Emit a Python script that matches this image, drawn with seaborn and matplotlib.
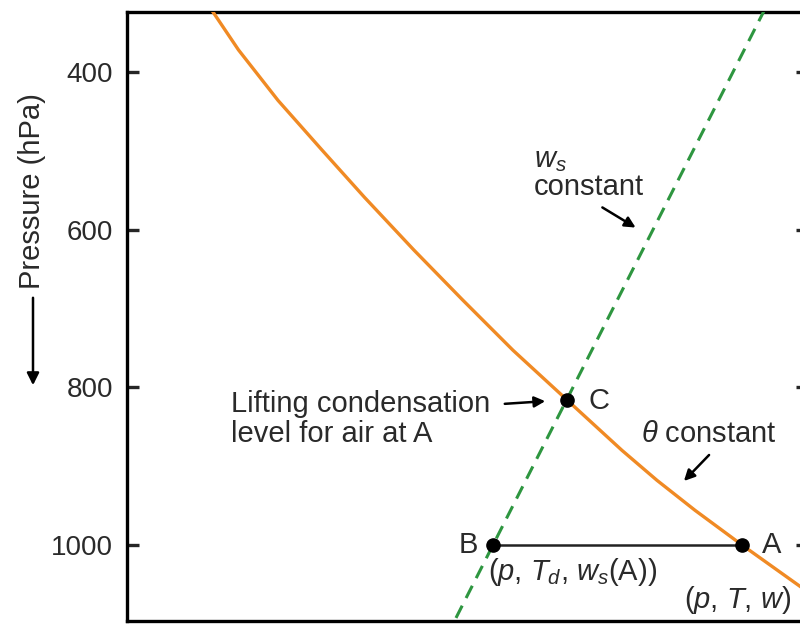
import matplotlib
matplotlib.use("Agg")
import matplotlib.pyplot as plt
import seaborn as sns
import pandas as pd

# ---- data (temperature in arbitrary units, pressure in hPa) ----
theta_p = [322, 372, 436, 499, 559, 626, 689, 753, 816, 880, 918, 956, 1000, 1057, 1083]
theta_T = [8.5, 11.15, 15.1, 19.5, 23.75, 28.7, 33.55, 38.6, 44.0, 49.5, 53.0, 56.8, 61.5, 67.8, 70.6]
ws_p = [320, 1100]
ws_T = [63.8, 32.6]
pt_names = ["A", "B", "C"]
pt_p = [1000, 1000, 816]
pt_T = [61.5, 36.6, 44.0]
yticks = [400, 600, 800, 1000]

sns.set_style("white")
plt.rcParams["font.family"] = ["Liberation Sans", "DejaVu Sans"]
plt.rcParams["mathtext.fontset"] = "custom"
plt.rcParams["mathtext.rm"] = "Liberation Sans"
plt.rcParams["mathtext.it"] = "Liberation Sans:italic"

fig = plt.figure(figsize=(8, 6.24), dpi=100)
ax = fig.add_axes([127 / 800, 3 / 624, (808 - 127) / 800, (612 - 3) / 624])

def X(px):
    return (px - 127) / 10.0

def Y(py):
    return 400 + (py - 72) / 0.7883

ax.set_xlim(0, X(808))
ax.set_ylim(Y(621), Y(12))

df_theta = pd.DataFrame({"T": theta_T, "p": theta_p})
df_ws = pd.DataFrame({"T": ws_T, "p": ws_p})
sns.lineplot(data=df_theta, x="T", y="p", sort=False, ax=ax, color="#F08A24", lw=2.4, zorder=3)
sns.lineplot(data=df_ws, x="T", y="p", sort=False, ax=ax, color="#2E9640", lw=2.2,
             dashes=False, zorder=3)
ax.lines[-1].set_dashes([4.5, 2.8])
for ln in ax.lines:
    ln.set_solid_joinstyle("round")

iA, iB, iC = 0, 1, 2
ax.plot([pt_T[iB], pt_T[iA]], [pt_p[iB], pt_p[iA]], color="#222222", lw=1.8, zorder=4)
ax.plot(pt_T, pt_p, "o", color="black", ms=9.5, zorder=5)

ax.set_yticks(yticks)
ax.set_yticklabels([str(v) for v in yticks], fontsize=20, color="#2a2a2a")
ax.set_xticks([])
ax.tick_params(axis="y", direction="in", length=8.5, width=2.4, pad=10, right=True, left=True)
for s in ax.spines.values():
    s.set_linewidth(2.4)
    s.set_color("black")
ax.set_ylabel("")
ax.set_xlabel("")

fs = 21
tc = "#2a2a2a"
ax.text(X(588), Y(401), "C", fontsize=fs, color=tc, va="center", ha="left")
ax.text(X(478), Y(545), "B", fontsize=fs, color=tc, va="center", ha="right")
ax.text(X(762), Y(545), "A", fontsize=fs, color=tc, va="center", ha="left")
ax.text(X(488), Y(572), r"($p$, $T_d$, $w_s$(A))", fontsize=fs, color=tc, va="center", ha="left")
ax.text(X(684), Y(600), r"($p$, $T$, $w$)", fontsize=fs, color=tc, va="center", ha="left")

ax.text(X(231), Y(419), "Lifting condensation\nlevel for air at A", fontsize=fs, color=tc,
        va="center", ha="left", linespacing=1.05)
ax.annotate("", xy=(X(548), Y(401)), xytext=(X(502), Y(404)),
            arrowprops=dict(arrowstyle="-|>", color="black", lw=1.8, mutation_scale=16))

ax.text(X(534), Y(160), r"$w_s$", fontsize=fs, color=tc, va="center", ha="left")
ax.text(X(534), Y(187), "constant", fontsize=fs, color=tc, va="center", ha="left")
ax.annotate("", xy=(X(638), Y(229)), xytext=(X(600), Y(206)),
            arrowprops=dict(arrowstyle="-|>", color="black", lw=1.8, mutation_scale=16))

ax.text(X(641), Y(434), r"$\theta$ constant", fontsize=fs, color=tc, va="center", ha="left")
ax.annotate("", xy=(X(682), Y(483)), xytext=(X(711), Y(453)),
            arrowprops=dict(arrowstyle="-|>", color="black", lw=1.8, mutation_scale=16))

# y label with downward arrow
fig.text(32 / 800, 1 - 191 / 624, "Pressure (hPa)", rotation=90, fontsize=fs, color=tc,
         ha="center", va="center")
fig.add_artist(matplotlib.patches.FancyArrowPatch((33 / 800, 1 - 295 / 624), (33 / 800, 1 - 388 / 624),
               transform=fig.transFigure, arrowstyle="-|>", color="black", lw=1.8,
               mutation_scale=18))

fig.savefig("out.png", dpi=100)
